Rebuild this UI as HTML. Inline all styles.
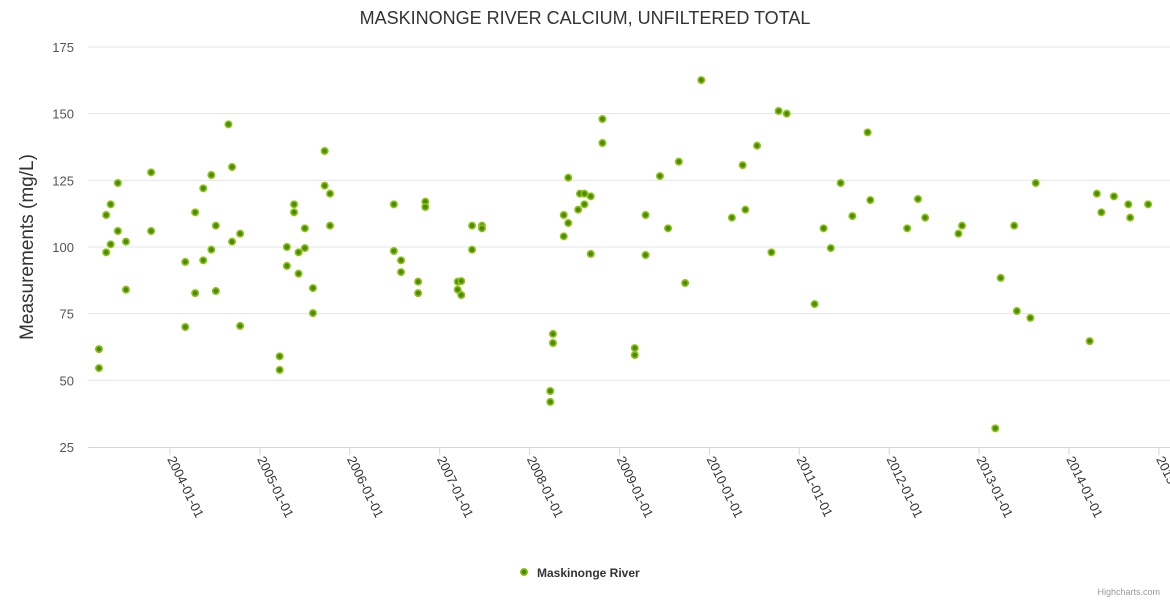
<!DOCTYPE html>
<html><head><meta charset="utf-8"><style>
body{margin:0;background:#fff;}
svg{display:block;font-family:"Liberation Sans",sans-serif;}
</style></head><body>
<svg id="chart" width="1170" height="600">
<text x="585" y="24" text-anchor="middle" font-size="18" fill="#333">MASKINONGE RIVER CALCIUM, UNFILTERED TOTAL</text>
<text transform="translate(33,247) rotate(-90)" text-anchor="middle" font-size="19" fill="#333">Measurements (mg/L)</text>
<g id="grid"></g><g id="xaxis"></g><g id="pts"></g>
<g>
<circle cx="524" cy="572" r="3.2" fill="#4d8c00" stroke="#8cc21a" stroke-width="1.6"/>
<text x="537" y="577" font-size="12" font-weight="bold" fill="#333">Maskinonge River</text>
</g>
<text x="1160" y="595" text-anchor="end" font-size="9" fill="#999">Highcharts.com</text>
</svg>
<script>
const yTicks=[25,50,75,100,125,150,175];
const xTickYears=[2004,2005,2006,2007,2008,2009,2010,2011,2012,2013,2014,2015];
const dates=[2003.21,2003.21,2003.29,2003.29,2003.34,2003.34,2003.42,2003.42,2003.51,2003.51,2003.79,2003.79,2004.17,2004.17,2004.28,2004.28,2004.37,2004.37,2004.46,2004.46,2004.51,2004.51,2004.65,2004.69,2004.69,2004.78,2004.78,2005.22,2005.22,2005.30,2005.30,2005.38,2005.38,2005.43,2005.43,2005.50,2005.50,2005.59,2005.59,2005.72,2005.72,2005.78,2005.78,2006.49,2006.49,2006.57,2006.57,2006.76,2006.76,2006.84,2006.84,2007.20,2007.20,2007.24,2007.24,2007.36,2007.36,2007.47,2007.47,2008.23,2008.23,2008.26,2008.26,2008.38,2008.38,2008.43,2008.43,2008.54,2008.56,2008.61,2008.61,2008.68,2008.68,2008.81,2008.81,2009.17,2009.17,2009.29,2009.29,2009.45,2009.54,2009.66,2009.73,2009.91,2010.25,2010.37,2010.40,2010.53,2010.69,2010.77,2010.86,2011.17,2011.27,2011.35,2011.46,2011.59,2011.76,2011.79,2012.20,2012.32,2012.40,2012.77,2012.81,2013.18,2013.24,2013.39,2013.42,2013.57,2013.63,2014.23,2014.31,2014.36,2014.50,2014.66,2014.68,2014.88];
const values=[61.7,54.6,98,112,116,101,124,106,102,84,128,106,94.4,70,113,82.7,122,95,127,99,108,83.5,146,130,102,105,70.4,59,53.9,100,92.9,116,113,98,90,107,99.6,84.6,75.2,136,123,120,108,116,98.5,95,90.6,87,82.7,117,115,87,84,87.2,82,108,99,108,107,46,41.9,67.4,64,112,104,126,109,114,120,120,116,119,97.4,148,139,62.1,59.5,112,97,126.6,107,132,86.5,162.6,111,130.7,114,138,98,151,150,78.6,107,99.6,124,111.6,143,117.6,107,118,111,105,108,32,88.4,108,76,73.4,124,64.7,120,113,119,116,111,116];
const NS='http://www.w3.org/2000/svg';
function yS(v){return 447-(v-25)*400/150;}
function xS(t){return 170+(t-2004)*89.9;}
function mk(tag,attrs,parent){const e=document.createElementNS(NS,tag);for(const k in attrs)e.setAttribute(k,attrs[k]);parent.appendChild(e);return e;}
const grid=document.getElementById('grid'),xa=document.getElementById('xaxis'),pts=document.getElementById('pts');
yTicks.forEach(v=>{
 if(v>25){const l=mk('line',{x1:88,x2:1170,y1:yS(v),y2:yS(v),stroke:'#e6e6e6'},grid);
 
 }
 const t=mk('text',{x:74,y:yS(v)+5,'text-anchor':'end','font-size':13,fill:'#555'},grid);
 
 
 t.textContent=v;
});
const ax=mk('line',{x1:88,x2:1170,y1:447.5,y2:447.5,stroke:'#ccd6eb'},xa);


xTickYears.forEach(yr=>{
 const x=xS(yr);
 mk('line',{x1:x,x2:x,y1:447,y2:455,stroke:'#ccd6eb'},xa);
 const t=mk('text',{transform:`translate(${x-3},459) rotate(64)`,'font-size':13,fill:'#333'},xa);
 
 
 t.textContent=yr+'-01-01';
});
dates.forEach((d,i)=>{
 const c=mk('circle',{cx:xS(d),cy:yS(values[i]),r:3.2,fill:'#4d8c00',stroke:'#8cc21a','stroke-width':1.6},pts);
 
 
});
</script>
</body></html>
